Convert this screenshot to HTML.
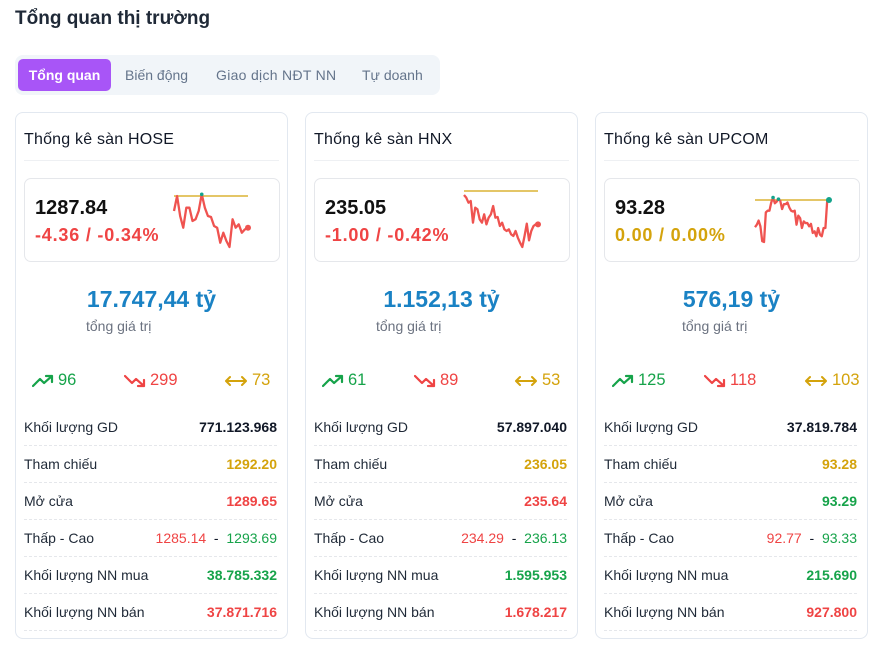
<!DOCTYPE html>
<html><head><meta charset="utf-8">
<style>
*{box-sizing:border-box;margin:0;padding:0}
body{width:877px;height:649px;background:#fff;font-family:"Liberation Sans",sans-serif;color:#1f2937;position:relative;overflow:hidden}
.title{position:absolute;left:15px;top:8px;font-size:19px;font-weight:600;color:#1f2937}
.tabs{position:absolute;left:15px;top:55px;width:425px;height:40px;background:#f1f5f9;border-radius:8px}
.tab{position:absolute;top:4px;height:32px;line-height:32px;font-size:14px;color:#64748b;white-space:nowrap}
.tab.active{background:#a855f7;color:#fff;font-weight:600;border-radius:5px;width:93px;text-align:center}
.card{position:absolute;top:112px;width:273px;height:527px;border:1px solid #e2e8f0;border-radius:8px;background:#fff}
.ctitle{position:absolute;left:8px;top:18px;font-size:16px;font-weight:500;color:#111827;letter-spacing:0.2px}
.csep{position:absolute;left:8px;right:8px;top:47px;border-top:1px solid #eef0f3}
.box{position:absolute;left:8px;top:65px;width:256px;height:84px;border:1px solid #e5e7eb;border-radius:7px}
.price{position:absolute;left:10px;top:18px;font-size:20px;font-weight:600;color:#111}
.chg{position:absolute;left:10px;top:46px;font-size:18px;font-weight:600;letter-spacing:0.8px}
.box svg{position:absolute;left:0;top:0}
.total{position:absolute;left:0;right:0;top:173px;text-align:center;font-size:23px;font-weight:700;color:#1a82c4}
.tlabel{position:absolute;top:205px;font-size:14px;color:#6b7280}
.counts{position:absolute;top:258px;left:0;right:0;height:22px;font-size:16.5px;font-weight:500}
.cnt{position:absolute;top:0;display:flex;align-items:center;gap:4px}
.row{position:absolute;left:8px;right:10px;height:37px;border-bottom:1px dashed #e5e7eb;font-size:14px}
.row .l{position:absolute;left:0;top:10px;color:#1f2937}
.row .v{position:absolute;right:0;top:10px;font-weight:600}
.g{color:#16a34a}.r{color:#ef4444}.y{color:#d4a30c}.k{color:#111827}
</style></head><body>
<div class="title">Tổng quan thị trường</div>
<div class="tabs">
 <div class="tab active" style="left:3px">Tổng quan</div>
 <div class="tab" style="left:110px">Biến động</div>
 <div class="tab" style="left:201px;letter-spacing:0.3px">Giao dịch NĐT NN</div>
 <div class="tab" style="left:347px">Tự doanh</div>
</div>
<div id="cards"></div>
<script>
const exchanges = ["HOSE","HNX","UPCOM"];
const prices = ["1287.84","235.05","93.28"];
const changes = ["-4.36 / -0.34%","-1.00 / -0.42%","0.00 / 0.00%"];
const totals = ["17.747,44 tỷ","1.152,13 tỷ","576,19 tỷ"];
const ups = [96,61,125];
const downs = [299,89,118];
const flats = [73,53,103];
const volumes = ["771.123.968","57.897.040","37.819.784"];
const refs = [1292.20,236.05,93.28];
const refText = ["1292.20","236.05","93.28"];
const opens = ["1289.65","235.64","93.29"];
const lows = ["1285.14","234.29","92.77"];
const highs = ["1293.69","236.13","93.33"];
const nnBuy = ["38.785.332","1.595.953","215.690"];
const nnSell = ["37.871.716","1.678.217","927.800"];
const hoseSeries = [1290.17,1292.20,1289.49,1287.91,1290.62,1290.62,1288.82,1289.05,1290.17,1292.43,1290.62,1289.49,1289.36,1288.14,1287.91,1285.88,1287.23,1286.11,1285.30,1289.05,1287.91,1288.37,1287.23,1287.69,1287.91];
const hnxSeries = [235.93,235.85,235.70,235.75,235.10,235.55,235.50,235.20,235.10,235.35,235.05,235.25,235.35,235.60,235.25,235.27,235.00,235.10,234.90,234.85,234.90,234.75,234.70,234.85,234.65,234.50,234.37,234.70,235.07,234.57,234.85,235.00,235.05,235.05];
const upcomSeries = [92.95,92.98,93.03,92.96,92.78,92.77,93.13,93.15,93.15,93.25,93.31,93.24,93.26,93.29,93.27,93.17,93.23,93.23,93.25,93.19,93.15,93.14,93.15,92.98,93.09,93.06,92.94,93.02,93.00,93.00,92.96,92.99,92.88,92.90,92.84,92.94,92.86,92.84,92.94,92.94,93.27,93.28];
const series = [hoseSeries,hnxSeries,upcomSeries];
const changeCls = ["r","r","y"];
const cardLefts = [15,305,595];
const sparkX = [[149,223],[149,223],[150,224]];
const refY = [17,12,21];
const lowY = [68,68,63];
const NS="http://www.w3.org/2000/svg";
const upIcon='<svg width="22" height="14" viewBox="0 0 22 14"><path d="M1 12 L8 5 L12 9 L20 2 M14 2 H20 V8" fill="none" stroke="#16a34a" stroke-width="2.2" stroke-linecap="round" stroke-linejoin="round"/></svg>';
const dnIcon='<svg width="22" height="14" viewBox="0 0 22 14"><path d="M1 2 L8 9 L12 5 L20 12 M14 12 H20 V6" fill="none" stroke="#ef4444" stroke-width="2.2" stroke-linecap="round" stroke-linejoin="round"/></svg>';
const flIcon='<svg width="24" height="14" viewBox="0 0 24 14"><path d="M2 7 H22 M6 3 L2 7 L6 11 M18 3 L22 7 L18 11" fill="none" stroke="#d4a30c" stroke-width="2" stroke-linecap="round" stroke-linejoin="round"/></svg>';
const host=document.getElementById('cards');
exchanges.forEach((ex,i)=>{
  const c=document.createElement('div');
  c.className='card';c.style.left=cardLefts[i]+'px';
  
  
  const rows=[["Khối lượng GD",`<span class="k">${volumes[i]}</span>`],["Tham chiếu",`<span class="y">${refText[i]}</span>`],["Mở cửa",`<span class="${parseFloat(opens[i])>refs[i]?'g':'r'}">${opens[i]}</span>`],["Thấp - Cao",`<span class="r" style="font-weight:500">${lows[i]}</span> <span class="k" style="font-weight:500">&nbsp;-&nbsp;</span> <span class="g" style="font-weight:500">${highs[i]}</span>`],["Khối lượng NN mua",`<span class="g">${nnBuy[i]}</span>`],["Khối lượng NN bán",`<span class="r">${nnSell[i]}</span>`]];
  let rh='';
  rows.forEach((r,j)=>{rh+=`<div class="row" style="top:${296+j*37}px"><span class="l">${r[0]}</span><span class="v">${r[1]}</span></div>`;});
  c.innerHTML=`<div class="ctitle">Thống kê sàn ${ex}</div><div class="csep"></div>
  <div class="box"><div class="price">${prices[i]}</div><div class="chg ${changeCls[i]}">${changes[i]}</div></div>
  <div class="total">${totals[i]}</div>
  <div class="tlabel" style="left:${[70,70,86][i]}px">tổng giá trị</div>
  <div class="counts"><div class="cnt g" style="left:16px">${upIcon}<span>${ups[i]}</span></div><div class="cnt r" style="left:108px">${dnIcon}<span>${downs[i]}</span></div><div class="cnt y" style="left:208px">${flIcon}<span>${flats[i]}</span></div></div>${rh}`;
  host.appendChild(c);
  const s=series[i];
  const lo=Math.min(...s);
  const ref=refs[i];
  const xs=v=>sparkX[i][0]+(sparkX[i][1]-sparkX[i][0])*v/(s.length-1);
  const ys=v=>refY[i]+(lowY[i]-refY[i])*(ref-v)/(ref-lo);
  const svg=document.createElementNS(NS,'svg');
  svg.setAttribute('width','256');svg.setAttribute('height','84');
  
  
  const rl=document.createElementNS(NS,'line');
  rl.setAttribute('x1',sparkX[i][0]);rl.setAttribute('x2',sparkX[i][1]);
  rl.setAttribute('y1',ys(ref));rl.setAttribute('y2',ys(ref));
  rl.setAttribute('stroke','#d4a30c');rl.setAttribute('stroke-width','1.2');
  
  
  svg.appendChild(rl);
  const p=document.createElementNS(NS,'polyline');
  p.setAttribute('points',s.map((v,k)=>xs(k)+','+ys(v)).join(' '));
  p.setAttribute('fill','none');p.setAttribute('stroke','#ef5350');p.setAttribute('stroke-width','2.3');p.setAttribute('stroke-linejoin','round');
  
  
  svg.appendChild(p);
  s.forEach((v,k)=>{
    if(v>ref){
      const d=document.createElementNS(NS,'circle');
      d.setAttribute('cx',xs(k));d.setAttribute('cy',ys(v));d.setAttribute('r','1.8');d.setAttribute('fill','#14a38b');
      
      
      svg.appendChild(d);
    }
  });
  const last=s[s.length-1];
  const e=document.createElementNS(NS,'circle');
  e.setAttribute('cx',xs(s.length-1));e.setAttribute('cy',ys(last));e.setAttribute('r','3');
  e.setAttribute('fill',last>=ref?'#14a38b':'#ef5350');
  
  
  svg.appendChild(e);
  c.querySelector('.box').appendChild(svg);
});
</script>
</body></html>
